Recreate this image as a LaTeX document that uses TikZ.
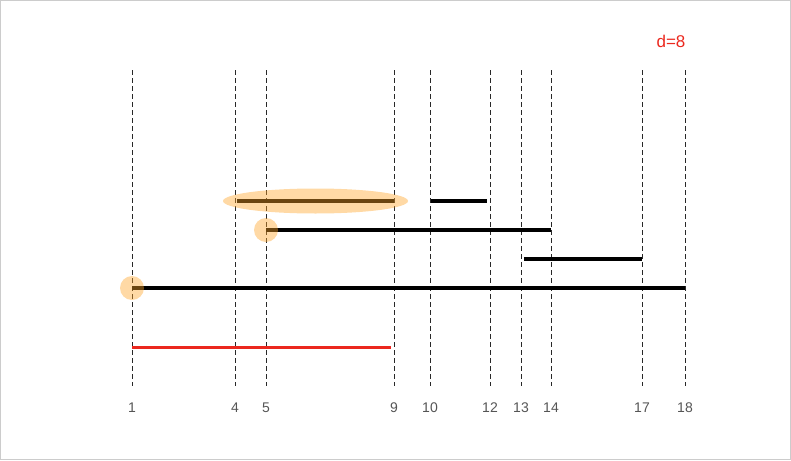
\documentclass[tikz,border=0pt]{standalone}
\usepackage{fontspec}
\setmainfont{Liberation Sans}
\definecolor{framegray}{RGB}{204,204,204}
\definecolor{tickgray}{RGB}{40,40,40}
\definecolor{lblgray}{RGB}{85,85,85}
\definecolor{dred}{RGB}{235,40,30}
\definecolor{hlorange}{RGB}{255,165,40}
\begin{document}
\begin{tikzpicture}[x={(1pt,0)},y={(0,-1pt)},
  tick/.style={draw=tickgray,line width=0.9pt,dash pattern=on 5pt off 3pt},
  lbl/.style={text=lblgray,font=\fontsize{14}{16}\selectfont,inner sep=0pt,anchor=center},
  bar/.style={line width=4pt,black},
  hl/.style={fill=hlorange,fill opacity=0.42,draw=none}]
\draw[framegray,line width=1pt] (0.5,0.5) rectangle (790.5,459.5);
\useasboundingbox (0,0) rectangle (791,460);
\foreach \n/\x in {1/132,4/235,5/266,9/394,10/430,12/490,13/521,14/551,17/642,18/685}{
  \coordinate (t\n) at (\x,70);
  \coordinate (b\n) at (\x,386);
  \draw[tick] (t\n) -- (b\n);
  \node[lbl] (l\n) at (\x,408) {\n};
}
\node[text=dred,font=\fontsize{17}{19}\selectfont,inner sep=0pt] (d) at (671,41) {d=8};
% bars
\coordinate (a1) at (237,201); \coordinate (a2) at (394,201);
\coordinate (c1) at (431,201); \coordinate (c2) at (487,201);
\coordinate (e1) at (266,230); \coordinate (e2) at (551,230);
\coordinate (f1) at (524,259); \coordinate (f2) at (642,259);
\coordinate (g1) at (132,288); \coordinate (g2) at (685,288);
\coordinate (r1) at (132,347); \coordinate (r2) at (391,347);
\draw[bar] (a1) -- (a2);
\draw[bar] (c1) -- (c2);
\draw[bar] (e1) -- (e2);
\draw[bar] (f1) -- (f2);
\draw[bar] (g1) -- (g2);
\draw[line width=3pt,dred] (r1) -- (r2);
% highlights
\fill[hl] (315.5,201) ellipse [x radius=92.5,y radius=12.5];
\fill[hl] (e1) circle [radius=12];
\fill[hl] (g1) circle [radius=12];
\end{tikzpicture}
\end{document}
